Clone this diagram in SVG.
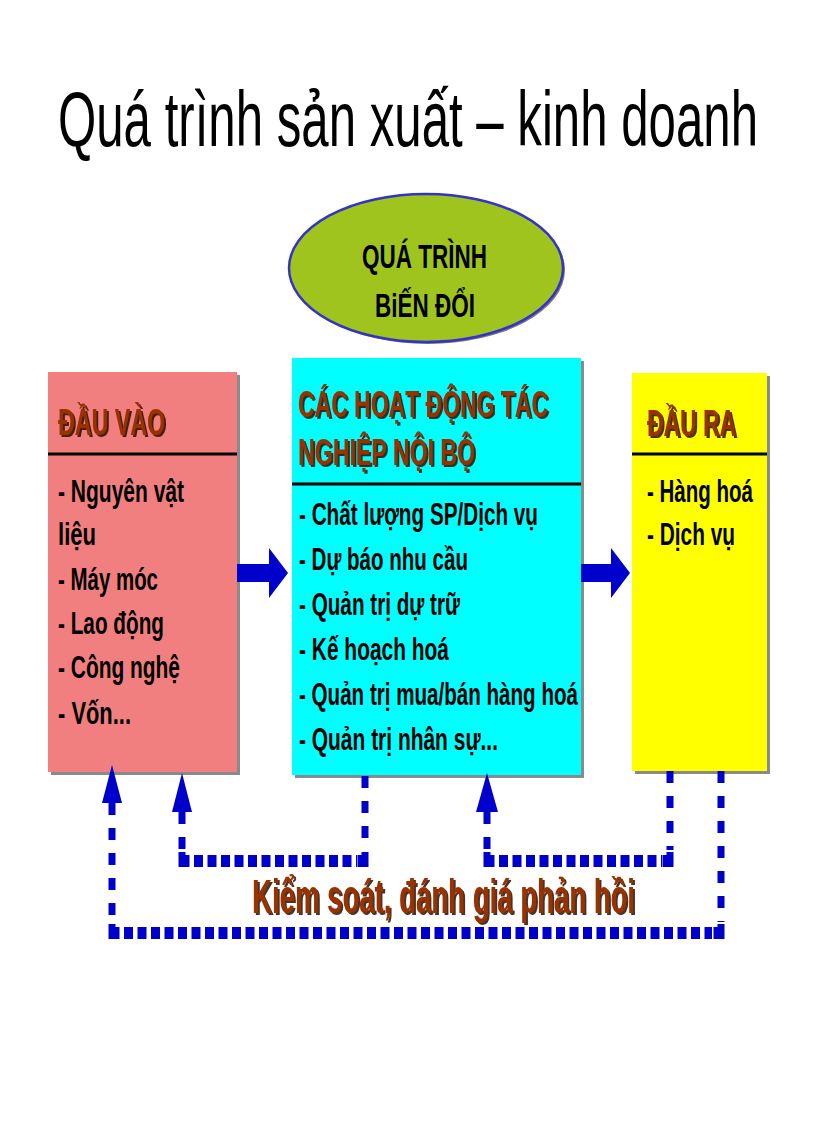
<svg xmlns="http://www.w3.org/2000/svg" width="816" height="1123" viewBox="0 0 816 1123">
<defs>
<filter id="sh" x="-5%" y="-20%" width="110%" height="140%">
<feDropShadow dx="2" dy="2" stdDeviation="0.4" flood-color="#2a1000" flood-opacity="0.85"/>
</filter>
</defs>
<style>
.t{font-family:"Liberation Sans","Arial",sans-serif;font-weight:bold;fill:#000}
.it{font-size:31px}
.hd{font-size:37px;fill:#993300;filter:url(#sh)}
.ttl{font-family:"Liberation Sans","Arial",sans-serif;font-size:77px;fill:#000}
.box{stroke:none}
.shd{fill:#8a8a8a}
.sep{stroke:#000;stroke-width:3}
.dv{fill:none;stroke:#0000cc;stroke-width:7;stroke-dasharray:12 13}
.dh{fill:none;stroke:#0000cc;stroke-width:12;stroke-dasharray:9 4.5}
.blue{fill:#0000cc}
</style>
<rect width="816" height="1123" fill="#fff"/>

<g id="title">
<text class="ttl" x="58" y="146" textLength="700" lengthAdjust="spacingAndGlyphs">Quá trình sản xuất – kinh doanh</text>
</g>

<g id="node-bien-doi">
<ellipse cx="428" cy="270" rx="137" ry="74" fill="#7a7a7a"/>
<ellipse cx="426" cy="268" rx="137" ry="74" fill="#9fc41e" stroke="#3333cc" stroke-width="2.5"/>
<text class="t" style="font-size:33px" x="362" y="268" textLength="125" lengthAdjust="spacingAndGlyphs">QUÁ TRÌNH</text>
<text class="t" style="font-size:33px" x="375" y="317" textLength="100" lengthAdjust="spacingAndGlyphs">BiẾN ĐỔI</text>
</g>

<g id="node-dau-vao">
<rect class="shd" x="51" y="375" width="189" height="400"/>
<rect class="box" x="48" y="372" width="189" height="400" fill="#f27f7f"/>
<text class="t hd" x="58" y="435" textLength="107" lengthAdjust="spacingAndGlyphs">ĐẦU VÀO</text>
<line class="sep" x1="48" y1="454" x2="237" y2="454"/>
<text class="t it" x="58" y="502" textLength="126" lengthAdjust="spacingAndGlyphs">- Nguyên vật</text>
<text class="t it" x="58" y="545" textLength="38" lengthAdjust="spacingAndGlyphs">liệu</text>
<text class="t it" x="58" y="590" textLength="100" lengthAdjust="spacingAndGlyphs">- Máy móc</text>
<text class="t it" x="58" y="634" textLength="106" lengthAdjust="spacingAndGlyphs">- Lao động</text>
<text class="t it" x="58" y="678" textLength="122" lengthAdjust="spacingAndGlyphs">- Công nghệ</text>
<text class="t it" x="58" y="724" textLength="73" lengthAdjust="spacingAndGlyphs">- Vốn...</text>
</g>

<g id="node-hoat-dong">
<rect class="shd" x="295" y="361" width="289" height="417"/>
<rect class="box" x="292" y="358" width="289" height="417" fill="#00ffff"/>
<text class="t hd" x="298" y="417" textLength="250" lengthAdjust="spacingAndGlyphs">CÁC HOẠT ĐỘNG TÁC</text>
<text class="t hd" x="298" y="465" textLength="177" lengthAdjust="spacingAndGlyphs">NGHIỆP NỘI BỘ</text>
<line class="sep" x1="292" y1="484" x2="581" y2="484"/>
<text class="t it" x="299" y="525" textLength="239" lengthAdjust="spacingAndGlyphs">- Chất lượng SP/Dịch vụ</text>
<text class="t it" x="299" y="570" textLength="169" lengthAdjust="spacingAndGlyphs">- Dự báo nhu cầu</text>
<text class="t it" x="299" y="615" textLength="161" lengthAdjust="spacingAndGlyphs">- Quản trị dự trữ</text>
<text class="t it" x="299" y="660" textLength="150" lengthAdjust="spacingAndGlyphs">- Kế hoạch hoá</text>
<text class="t it" x="299" y="705" textLength="279" lengthAdjust="spacingAndGlyphs">- Quản trị mua/bán hàng hoá</text>
<text class="t it" x="299" y="750" textLength="199" lengthAdjust="spacingAndGlyphs">- Quản trị nhân sự...</text>
</g>

<g id="node-dau-ra">
<rect class="shd" x="635" y="376" width="135" height="398"/>
<rect class="box" x="632" y="373" width="135" height="398" fill="#ffff00"/>
<text class="t hd" x="647" y="436" textLength="89" lengthAdjust="spacingAndGlyphs">ĐẦU RA</text>
<line class="sep" x1="632" y1="454" x2="767" y2="454"/>
<text class="t it" x="647" y="502" textLength="106" lengthAdjust="spacingAndGlyphs">- Hàng hoá</text>
<text class="t it" x="647" y="545" textLength="88" lengthAdjust="spacingAndGlyphs">- Dịch vụ</text>
</g>

<g id="connectors">
<polygon class="blue" points="237,564 269,564 269,548 288,573 269,598 269,582 237,582"/>
<polygon class="blue" points="581,564 611,564 611,548 630,573 611,598 611,582 581,582"/>
<!-- outer loop -->
<polygon class="blue" points="112,765 102,803 122,803"/>
<line class="dv" x1="112" y1="803" x2="112" y2="926"/>
<path class="blue" d="M108.5,924 h7 v3 h4 v12 h-11 z"/>
<line class="dh" x1="124" y1="933" x2="712" y2="933"/>
<path class="blue" d="M717.5,924 h7 v15 h-11 v-12 h4 z"/>
<line class="dv" x1="721" y1="771" x2="721" y2="922"/>
<!-- inner left loop -->
<polygon class="blue" points="182,773 172,812 192,812"/>
<line class="dv" x1="182" y1="812" x2="182" y2="852"/>
<path class="blue" d="M178.5,852 h7 v3 h4 v12 h-11 z"/>
<line class="dh" x1="194" y1="861" x2="357" y2="861"/>
<path class="blue" d="M361.5,852 h7 v15 h-11 v-12 h4 z"/>
<line class="dv" x1="365" y1="776" x2="365" y2="850"/>
<!-- inner right loop -->
<polygon class="blue" points="487,773 476,812 498,812"/>
<line class="dv" x1="487" y1="812" x2="487" y2="852"/>
<path class="blue" d="M483.5,852 h7 v3 h4 v12 h-11 z"/>
<line class="dh" x1="499" y1="861" x2="662" y2="861"/>
<path class="blue" d="M666.5,852 h7 v15 h-11 v-12 h4 z"/>
<line class="dv" x1="670" y1="771" x2="670" y2="850"/>
</g>

<g id="label-kiem-soat">
<text class="t hd" style="font-size:48px" x="252" y="913" textLength="383" lengthAdjust="spacingAndGlyphs">Kiểm soát, đánh giá phản hồi</text>
</g>
</svg>
